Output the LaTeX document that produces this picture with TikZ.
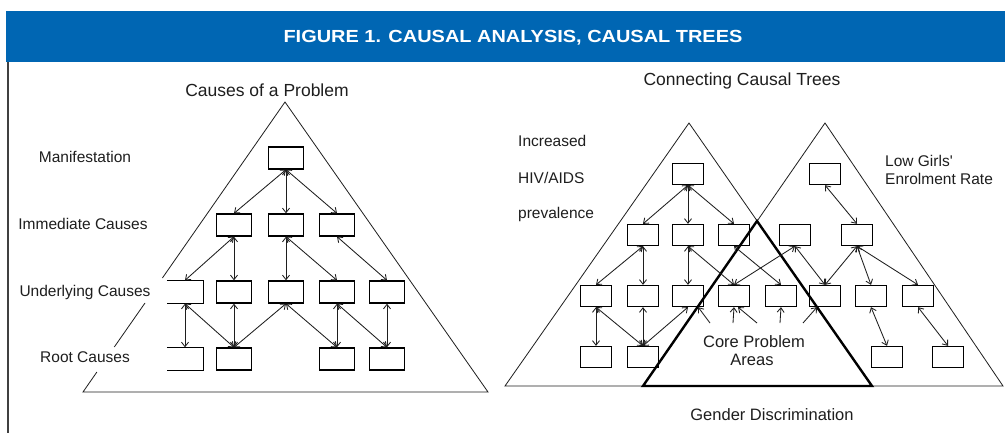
\documentclass[tikz,border=0pt]{standalone}
\usepackage{fontspec}
\setmainfont{Liberation Sans}
\usetikzlibrary{arrows.meta}
\definecolor{hdrblue}{RGB}{0,102,179}
\definecolor{ink}{RGB}{30,30,30}
\begin{document}
\begin{tikzpicture}[x=1pt,y=-1pt,
  lbl/.style={text=ink,inner sep=0pt,font=\fontsize{15.5}{18}\selectfont},
  sub/.style={text=ink,inner sep=0pt,font=\fontsize{17.5}{20}\selectfont},
  mid/.style={text=ink,inner sep=0pt,font=\fontsize{16.5}{19}\selectfont},
  bxL/.style={draw=black,line width=1.3pt,minimum width=35pt,minimum height=22pt,inner sep=0pt},
  bxR/.style={draw=black,line width=1.3pt,minimum width=31pt,minimum height=21pt,inner sep=0pt},
  boxline/.style={draw=black,line width=1.3pt},
  tri/.style={draw=ink,line width=0.8pt,line join=miter},
  core/.style={draw=black,line width=2.4pt,line join=miter},
  lk/.style={<->,>={Straight Barb[length=4.5pt,width=7pt]},line width=0.85pt,draw=ink},
  lkone/.style={->,>={Straight Barb[length=4.5pt,width=7pt]},line width=0.85pt,draw=ink}]
\useasboundingbox (0,0) rectangle (1005,433);
\fill[white] (0,0) rectangle (1005,433);
% header
\fill[hdrblue] (6,11) rectangle (1005,62);
\node[text=white,inner sep=0pt,font=\fontsize{17.5}{20}\bfseries\selectfont] (title) at (513,37.5) {\scalebox{1.14}[1]{FIGURE 1. CAUSAL ANALYSIS, CAUSAL TREES}};
\draw[line width=1.5pt,draw=black!75] (8,62) -- (8,433);

% ---------------- left diagram ----------------
\node[sub] (t1) at (267,90) {Causes of a Problem};
\draw[tri] (162.4,278) -- (285,102) -- (488,392) -- (83,392) -- (96.9,372);
\draw[tri] (145,303) -- (114.3,347);

\node[lbl] (lm) at (85,157) {Manifestation};
\node[lbl] (li) at (83,224) {Immediate Causes};
\node[lbl] (lu) at (85,292) {Underlying Causes};
\node[lbl] (lr) at (85,357) {Root Causes};

\node[bxL] (M) at (286,158) {};
\node[bxL] (I1) at (234,225) {};
\node[bxL] (I2) at (286,225) {};
\node[bxL] (I3) at (337,225) {};
\node[bxL,draw=none] (U1) at (185,292) {};
\node[bxL] (U2) at (234,292) {};
\node[bxL] (U3) at (286,292) {};
\node[bxL] (U4) at (337,292) {};
\node[bxL] (U5) at (387,292) {};
\node[bxL,draw=none] (R1) at (185,359) {};
\node[bxL] (R2) at (234,359) {};
\node[bxL] (R4) at (337,359) {};
\node[bxL] (R5) at (387,359) {};
\draw[boxline] (U1.north west) -- (U1.north east) -- (U1.south east) -- (U1.south west);
\draw[boxline] (R1.north west) -- (R1.north east) -- (R1.south east) -- (R1.south west);

\draw[lk] (M.south) -- (I1.north);
\draw[lk] (M.south) -- (I2.north);
\draw[lk] (M.south) -- (I3.north);
\draw[lk] (I1.south) -- (U1.north);
\draw[lk] (I1.south) -- (U2.north);
\draw[lk] (I2.south) -- (U3.north);
\draw[lk] (I2.south) -- (U4.north);
\draw[lk] (I3.south) -- (U5.north);
\draw[lk] (U1.south) -- (R1.north);
\draw[lk] (U1.south) -- (R2.north);
\draw[lk] (U2.south) -- (R2.north);
\draw[lk] (U3.south) -- (R2.north);
\draw[lk] (U3.south) -- (R4.north);
\draw[lk] (U4.south) -- (R4.north);
\draw[lk] (U4.south) -- (R5.north);
\draw[lk] (U5.south) -- (R5.north);

% ---------------- right diagram ----------------
\node[sub] (t2) at (742,81) {Connecting Causal Trees};
\draw[tri] (505,386) -- (689,123) -- (872,386) -- cycle;
\draw[tri] (643,386) -- (825,123) -- (1003,386) -- cycle;
\draw[core] (643,386) -- (757,221) -- (872,386) -- cycle;

\node[lbl,anchor=west] (hv1) at (518,141) {Increased};
\node[lbl,anchor=west] (hv2) at (518,178) {HIV/AIDS};
\node[lbl,anchor=west] (hv3) at (518,214) {prevalence};
\node[lbl,anchor=west] (gl1) at (885,161) {Low Girls\textquotesingle};
\node[lbl,anchor=west] (gl2) at (885,178.5) {Enrolment Rate};
\node[mid] (cp1) at (754,342) {Core Problem};
\node[mid] (cp2) at (752,360) {Areas};
\node[mid] (gd) at (772,415) {Gender Discrimination};

\node[bxR] (H) at (688,174) {};
\node[bxR] (G) at (825,174) {};
\node[bxR] (a1) at (643,235) {};
\node[bxR] (a2) at (688,235) {};
\node[bxR] (a3) at (734,235) {};
\node[bxR] (a4) at (795,235) {};
\node[bxR] (a5) at (857,235) {};
\node[bxR] (b1) at (596,296) {};
\node[bxR] (b2) at (643,296) {};
\node[bxR] (b3) at (688,296) {};
\node[bxR] (b4) at (734,296) {};
\node[bxR] (b5) at (781,296) {};
\node[bxR] (b6) at (825,296) {};
\node[bxR] (b7) at (871,296) {};
\node[bxR] (b8) at (918,296) {};
\node[bxR] (c1) at (596,357) {};
\node[bxR] (c2) at (643,357) {};
\node[bxR] (c3) at (887,357) {};
\node[bxR] (c4) at (948,357) {};

\draw[lk] (H.south) -- (a1.north);
\draw[lk] (H.south) -- (a2.north);
\draw[lk] (H.south) -- (a3.north);
\draw[lk] (G.south) -- (a5.north);
\draw[lk] (a1.south) -- (b1.north);
\draw[lk] (a1.south) -- (b2.north);
\draw[lk] (a2.south) -- (b3.north);
\draw[lk] (a2.south) -- (b4.north);
\draw[lk] (a3.south) -- (b5.north);
\draw[lk] (a4.south) -- (b4.north);
\draw[lk] (a4.south) -- (b6.north);
\draw[lk] (a5.south) -- (b6.north);
\draw[lk] (a5.south) -- (b7.north);
\draw[lk] (a5.south) -- (b8.north);
\draw[lk] (b1.south) -- (c1.north);
\draw[lk] (b1.south) -- (c2.north);
\draw[lk] (b2.south) -- (c2.north);
\draw[lk] (b3.south) -- (c2.north);
\draw[lk] (b7.south) -- (c3.north);
\draw[lk] (b8.south) -- (c4.north);

\coordinate (k1) at (710,323);
\coordinate (k2) at (733,323);
\coordinate (k3) at (757,323);
\coordinate (k4) at (780,323);
\coordinate (k5) at (803,323);
\draw[lkone] (k1) -- ([xshift=-6pt]b3.south east);
\draw[lkone] (k2) -- (b4.south);
\draw[lkone] (k3) -- ([xshift=4pt]b4.south);
\draw[lkone] (k4) -- (b5.south);
\draw[lkone] (k5) -- ([xshift=-8pt]b6.south);
\end{tikzpicture}
\end{document}
